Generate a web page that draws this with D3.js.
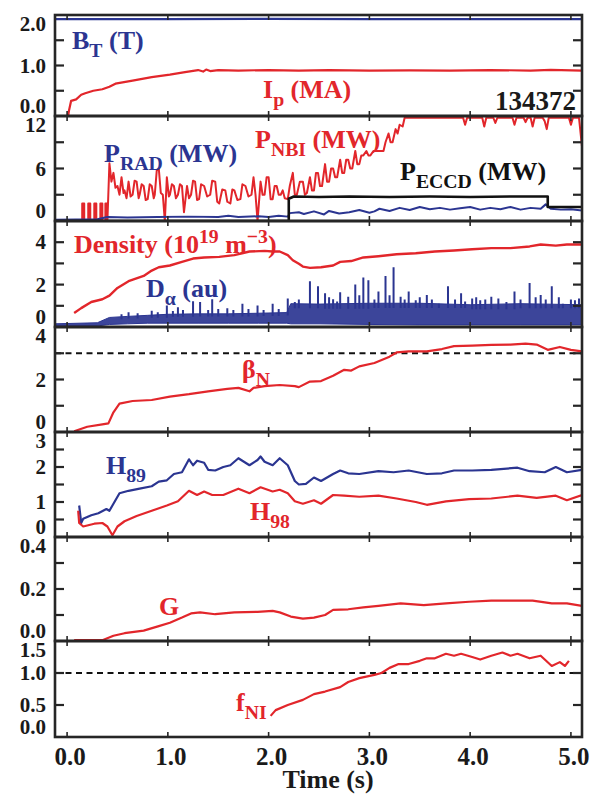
<!DOCTYPE html>
<html><head><meta charset="utf-8">
<script src="https://cdn.jsdelivr.net/npm/d3@7"></script>
<style>body{margin:0;background:#fff}</style>
</head><body><svg id="c" width="591" height="797"></svg>
<script>
// ---------------- DATA ----------------
const timeTicks = [0, 1, 2, 3, 4, 5];
const timeLabels = ["0.0", "1.0", "2.0", "3.0", "4.0", "5.0"];

// panel y ticks / labels
const p1Ticks = [0, 0.5, 1, 1.5, 2],      p1Labels = ["0.0", "", "1.0", "", "2.0"];
const p2Ticks = [0, 3, 6, 9, 12],          p2Labels = ["0", "", "6", "", "12"];
const p3Ticks = [0, 1, 2, 3, 4, 5],        p3Labels = ["0", "", "2", "", "4", ""];
const p4Ticks = [0, 1, 2, 3, 4],           p4Labels = ["0", "", "2", "", "4"];
const p5Ticks = [0, 0.5, 1, 1.5, 2, 2.5, 3], p5Labels = ["0", "", "1", "", "2", "", "3"];
const p6Ticks = [0, 0.1, 0.2, 0.3, 0.4],   p6Labels = ["0.0", "", "0.2", "", "0.4"];
const p7Ticks = [0, 0.5, 1, 1.5],          p7Labels = ["0.0", "0.5", "1.0", "1.5"];

// Panel 1: toroidal field and plasma current
const bT = [[-0.12,1.92],[1.0,1.92],[2.0,1.925],[3.0,1.92],[4.0,1.92],[5.11,1.92]];
const iP = [[-0.12,0],[0.01,0],[0.02,0.12],[0.04,0.3],[0.09,0.33],[0.14,0.42],[0.18,0.45],[0.26,0.5],
  [0.35,0.53],[0.42,0.58],[0.48,0.64],[0.65,0.7],[0.84,0.77],[1.02,0.82],[1.17,0.87],[1.3,0.91],
  [1.35,0.88],[1.38,0.92],[1.42,0.89],[1.5,0.91],[1.7,0.9],[2.0,0.91],[2.3,0.9],[2.6,0.91],[3.0,0.9],
  [3.4,0.905],[3.8,0.9],[4.2,0.91],[4.6,0.9],[4.8,0.915],[5.11,0.9]];

// Panel 2: powers (MW)
const pNBI = [[0,0],[0.15,0],[0.15,2],[0.17,2],[0.17,0],[0.21,0],[0.21,2],[0.23,2],[0.23,0],[0.27,0],
  [0.27,2],[0.29,2],[0.29,0],[0.33,0],[0.33,2],[0.35,2],[0.35,0],[0.38,0],[0.38,2],[0.4,2],[0.4,0],
  [0.42,6.6],[0.44,4.5],[0.46,5.5],[0.48,3.8],[0.5,4],[0.52,3],[0.54,5],[0.56,3.2],[0.57,3.5],[0.59,2.6],
  [0.61,4.5],[0.63,2.8],[0.65,3],[0.67,4.6],[0.69,4.5],[0.71,2.6],[0.72,3],[0.74,4.2],[0.76,4],[0.78,2.4],
  [0.8,2.5],[0.82,4.2],[0.84,4],[0.86,2.6],[0.87,3],[0.89,5.8],[0.91,6],[0.93,3.2],[0.95,3],[0.97,0],
  [0.99,5],[1.01,2.8],[1.02,3],[1.04,4.2],[1.06,4],[1.08,2.6],[1.1,3],[1.12,4.2],[1.14,4],[1.16,1],
  [1.19,4],[1.21,2.6],[1.23,3],[1.25,4.6],[1.27,4.5],[1.29,2.4],[1.31,2.5],[1.33,4.2],[1.36,4],[1.39,2.8],
  [1.42,3],[1.44,4.6],[1.47,4.5],[1.49,2.2],[1.51,2],[1.54,3.6],[1.57,3.5],[1.59,2.2],[1.62,2],[1.64,3.6],
  [1.66,3.5],[1.69,2.4],[1.72,2.5],[1.74,4.2],[1.77,4],[1.8,2.8],[1.83,3],[1.85,5],[1.87,3],[1.89,0],
  [1.92,4.5],[1.94,3],[1.96,3],[1.98,5],[2.0,5],[2.02,2.5],[2.04,2.5],[2.06,4],[2.08,4],[2.1,3],[2.12,3],
  [2.14,3.5],[2.16,2.6],[2.19,2.5],[2.21,4],[2.24,5.5],[2.26,3],[2.28,3],[2.31,4.5],[2.34,4.5],[2.36,3],
  [2.38,3.2],[2.41,5],[2.43,3.5],[2.45,3.5],[2.47,5.5],[2.49,5.5],[2.51,4],[2.53,4],[2.56,6.5],[2.58,4.5],
  [2.6,4.5],[2.62,6],[2.64,6],[2.66,5],[2.68,5],[2.71,7],[2.73,5.5],[2.75,5.5],[2.77,7],[2.79,7],[2.81,6],
  [2.83,6],[2.86,8],[2.88,6.5],[2.9,6.5],[2.92,7.5],[2.94,7.5],[2.97,8],[2.99,7.5],[3.01,7.5],[3.04,8],
  [3.14,8],[3.16,9],[3.19,10],[3.21,9],[3.23,9],[3.26,10.5],[3.28,10],[3.3,11],[3.33,10.8],[3.35,11.8],
  [3.93,11.8],[3.95,11],[3.97,11.8],[4.12,11.8],[4.14,10.8],[4.16,11.8],[4.23,11.8],[4.25,11.2],[4.27,11.8],
  [4.42,11.8],[4.44,11],[4.46,11.8],[4.53,11.8],[4.55,11.3],[4.57,11.8],[4.6,11.8],[4.62,10.8],[4.64,11.8],
  [4.72,11.8],[4.74,11.4],[4.76,10.5],[4.78,11.8],[4.98,11.8],[5.0,11],[5.02,11.8],[5.08,11.8],[5.11,8.5]];
const pRAD = [[-0.12,0.15],[0.3,0.2],[0.4,0.45],[0.6,0.4],[0.9,0.45],[1.2,0.5],[1.5,0.45],[1.6,0.6],
  [1.7,0.45],[1.9,0.55],[2.0,0.45],[2.1,0.6],[2.19,0.5],[2.21,0.9],[2.3,1.0],[2.35,0.8],[2.45,1.1],
  [2.55,0.75],[2.6,1.15],[2.7,0.85],[2.8,1.0],[2.9,1.25],[3.0,0.95],[3.05,1.1],[3.1,1.4],[3.2,1.15],
  [3.3,1.5],[3.4,1.25],[3.5,1.6],[3.6,1.35],[3.7,1.5],[3.8,1.3],[3.9,1.45],[4.0,1.6],[4.1,1.3],[4.2,1.5],
  [4.3,1.35],[4.4,1.6],[4.5,1.3],[4.6,1.5],[4.7,1.4],[4.75,1.9],[4.8,1.4],[4.9,1.3],[5.0,1.35],[5.11,1.2]];
const pECCD = [[-0.12,0],[2.2,0],[2.2,2.55],[2.25,2.8],[2.5,2.75],[2.8,2.8],[3.2,2.75],[3.6,2.8],
  [4.0,2.75],[4.4,2.8],[4.77,2.8],[4.77,1.6],[5.11,1.6]];

// Panel 3: line-averaged density and D-alpha
const density = [[0.07,0.66],[0.14,0.89],[0.24,1.18],[0.35,1.31],[0.42,1.48],[0.5,1.84],[0.61,2.16],
  [0.76,2.41],[0.84,2.66],[0.91,2.82],[1.02,2.9],[1.14,3.07],[1.25,3.23],[1.36,3.28],[1.51,3.31],
  [1.66,3.39],[1.81,3.56],[1.96,3.59],[2.04,3.56],[2.11,3.56],[2.19,3.39],[2.24,3.15],[2.3,2.98],
  [2.34,2.85],[2.41,2.79],[2.52,2.82],[2.64,2.9],[2.71,3.07],[2.82,3.11],[2.94,3.28],[3.09,3.34],
  [3.27,3.43],[3.46,3.48],[3.65,3.56],[3.84,3.61],[4.02,3.67],[4.21,3.72],[4.4,3.72],[4.59,3.8],
  [4.7,3.89],[4.85,3.84],[4.96,3.89],[5.11,3.89]];
const dAlphaBand = [[-0.12,0.05,0.15],[0.3,0.05,0.2],[0.42,0.12,0.45],[0.6,0.15,0.5],[0.8,0.18,0.55],
  [1.0,0.18,0.6],[1.3,0.18,0.62],[1.6,0.18,0.62],[1.9,0.18,0.65],[2.18,0.18,0.68],[2.22,0.15,1.1],
  [2.5,0.15,1.08],[3.0,0.12,1.12],[3.5,0.1,1.12],[4.0,0.1,1.05],[4.5,0.1,1.1],[5.11,0.1,1.05]];
const dAlphaSpikes = [[0.54,0.6],[0.61,0.69],[0.7,0.65],[0.84,0.77],[0.9,0.7],[0.99,1.02],[1.05,0.75],
  [1.1,0.93],[1.15,0.8],[1.25,1.21],[1.32,1.18],[1.4,0.8],[1.44,1.31],[1.5,0.85],[1.59,0.89],[1.65,0.8],
  [1.74,1.1],[1.8,0.85],[1.89,1.02],[1.95,0.8],[2.04,1.1],[2.1,0.85],[2.19,1.34],[2.26,1.18],[2.3,1.3],
  [2.41,2.16],[2.49,1.92],[2.56,1.59],[2.6,1.4],[2.64,1.31],[2.68,1.2],[2.71,1.64],[2.79,1.43],[2.86,2.0],
  [2.9,1.5],[2.94,2.33],[2.99,2.2],[3.05,1.3],[3.09,1.67],[3.16,2.41],[3.2,1.5],[3.24,2.82],[3.31,1.43],
  [3.35,1.3],[3.39,1.67],[3.46,1.26],[3.5,1.4],[3.57,1.51],[3.62,1.3],[3.69,1.1],[3.78,1.92],[3.85,1.3],
  [3.91,1.59],[3.95,1.2],[4.02,1.34],[4.06,1.4],[4.1,1.26],[4.15,1.3],[4.21,1.43],[4.28,1.35],[4.36,1.18],
  [4.44,1.67],[4.5,1.3],[4.59,2.08],[4.65,1.4],[4.7,1.51],[4.75,1.3],[4.81,1.92],[4.88,1.4],[4.92,1.1],
  [5.0,1.3],[5.04,1.26],[5.08,1.35]];

// Panel 4: beta_N and limit
const betaN = [[0.07,0.03],[0.2,0.2],[0.35,0.29],[0.41,0.33],[0.46,0.75],[0.52,1.08],[0.65,1.18],
  [0.84,1.22],[1.02,1.35],[1.21,1.44],[1.4,1.55],[1.59,1.64],[1.7,1.68],[1.81,1.55],[1.85,1.68],
  [1.96,1.75],[2.11,1.79],[2.26,1.75],[2.3,1.71],[2.41,1.92],[2.52,1.94],[2.64,2.14],[2.75,2.37],
  [2.82,2.34],[2.9,2.5],[3.05,2.63],[3.2,2.87],[3.27,3.03],[3.39,3.07],[3.57,3.07],[3.72,3.16],
  [3.84,3.27],[4.02,3.29],[4.21,3.32],[4.4,3.33],[4.55,3.37],[4.66,3.33],[4.77,3.13],[4.89,3.24],
  [5.0,3.13],[5.11,3.07]];
const betaLimit = [3.0];

// Panel 5: confinement factors
const h89 = [[0.12,0.9],[0.14,0.4],[0.16,0.52],[0.24,0.62],[0.31,0.68],[0.39,0.8],[0.42,0.75],[0.46,0.95],
  [0.52,1.25],[0.61,1.32],[0.72,1.38],[0.84,1.45],[0.91,1.58],[0.99,1.62],[1.06,1.8],[1.14,1.85],
  [1.21,2.22],[1.25,2.05],[1.29,2.18],[1.36,2.12],[1.4,1.92],[1.47,1.9],[1.55,2.0],[1.62,2.05],[1.7,2.25],
  [1.81,2.05],[1.89,2.2],[1.92,2.3],[1.96,2.15],[2.04,2.05],[2.11,2.25],[2.19,2.05],[2.26,1.6],[2.3,1.5],
  [2.37,1.52],[2.45,1.7],[2.52,1.6],[2.64,1.8],[2.71,1.9],[2.79,1.82],[2.9,1.8],[3.09,1.88],[3.24,1.85],
  [3.39,1.9],[3.57,1.8],[3.72,1.82],[3.84,1.9],[4.02,1.9],[4.21,1.92],[4.47,1.98],[4.59,1.88],
  [4.74,1.85],[4.85,2.0],[4.96,1.85],[5.11,1.92]];
const h98 = [[0.11,0.75],[0.12,0.4],[0.16,0.3],[0.27,0.38],[0.35,0.4],[0.4,0.3],[0.45,0.05],[0.5,0.3],
  [0.57,0.45],[0.69,0.6],[0.84,0.75],[0.99,0.9],[1.1,1.02],[1.21,1.32],[1.29,1.2],[1.36,1.3],[1.44,1.2],
  [1.55,1.2],[1.7,1.38],[1.81,1.25],[1.92,1.42],[2.04,1.3],[2.11,1.35],[2.19,1.25],[2.26,1.02],
  [2.34,0.95],[2.45,1.05],[2.52,0.95],[2.64,1.2],[2.75,1.18],[2.9,1.15],[3.09,1.18],[3.27,1.1],
  [3.46,1.0],[3.57,0.92],[3.76,1.02],[3.99,1.08],[4.21,1.1],[4.47,1.18],[4.66,1.12],[4.85,1.18],
  [4.96,1.05],[5.11,1.2]];

// Panel 6: G
const gFactor = [[0.07,0.003],[0.35,0.003],[0.46,0.02],[0.57,0.03],[0.76,0.04],[0.91,0.057],[1.02,0.07],
  [1.14,0.09],[1.23,0.106],[1.32,0.11],[1.47,0.103],[1.66,0.11],[1.89,0.112],[2.04,0.116],[2.11,0.11],
  [2.22,0.094],[2.34,0.086],[2.45,0.09],[2.56,0.1],[2.64,0.12],[2.79,0.122],[2.94,0.129],[3.09,0.135],
  [3.31,0.145],[3.54,0.138],[3.76,0.145],[3.99,0.151],[4.21,0.155],[4.44,0.155],[4.62,0.155],
  [4.81,0.145],[4.96,0.145],[5.11,0.135]];

// Panel 7: noninductive fraction
const fNI = [[2.02,0.33],[2.07,0.42],[2.19,0.5],[2.34,0.58],[2.45,0.67],[2.56,0.71],[2.71,0.78],
  [2.79,0.86],[2.9,0.92],[3.05,0.97],[3.12,1.0],[3.2,1.08],[3.29,1.14],[3.39,1.14],[3.5,1.19],
  [3.57,1.23],[3.65,1.23],[3.76,1.3],[3.84,1.27],[3.91,1.3],[4.02,1.25],[4.1,1.21],[4.21,1.27],
  [4.32,1.32],[4.4,1.27],[4.47,1.3],[4.59,1.23],[4.7,1.27],[4.81,1.11],[4.89,1.17],[4.94,1.11],[4.98,1.19]];
const fniLimit = [1.0];

// ---------------- LAYOUT ----------------
const RED = "#e2262b", BLUE = "#2b3591", BLACK = "#111111", FRAME = "#262626";
const FONT = "'Liberation Serif','Times New Roman',serif";
const svg = d3.select("#c");
const x = d3.scaleLinear().domain([-0.12, 5.11]).range([55, 582]);

const panels = [
  {top: 15,  bot: 116, dom: [0, 2],   ticks: p1Ticks, labels: p1Labels},
  {top: 116, bot: 221, dom: [0, 12],  ticks: p2Ticks, labels: p2Labels},
  {top: 221, bot: 327, dom: [0, 5],   ticks: p3Ticks, labels: p3Labels},
  {top: 327, bot: 432, dom: [0, 4],   ticks: p4Ticks, labels: p4Labels},
  {top: 432, bot: 537, dom: [0, 3],   ticks: p5Ticks, labels: p5Labels},
  {top: 537, bot: 641, dom: [0, 0.4], ticks: p6Ticks, labels: p6Labels},
  {top: 641, bot: 737, dom: [0, 1.5], ticks: p7Ticks, labels: p7Labels}
];
panels.forEach((p, i) => {
  p.y = d3.scaleLinear().domain(p.dom).range([p.bot, p.top]);
  svg.append("clipPath").attr("id", "clip" + i).append("rect")
    .attr("x", x.range()[0]).attr("y", p.top).attr("width", x.range()[1] - x.range()[0]).attr("height", p.bot - p.top);
  p.g = svg.append("g").attr("clip-path", `url(#clip${i})`);
});

function line(p, data, color, w) {
  p.g.append("path").datum(data)
    .attr("d", d3.line().x(d => x(d[0])).y(d => p.y(d[1])))
    .attr("fill", "none").attr("stroke", color).attr("stroke-width", w || 2)
    .attr("stroke-linejoin", "round");
}
function hline(p, v) {
  p.g.append("line").attr("x1", x.range()[0]).attr("x2", x.range()[1])
    .attr("y1", p.y(v)).attr("y2", p.y(v))
    .attr("stroke", BLACK).attr("stroke-width", 2).attr("stroke-dasharray", "6,4.5");
}

// Panel 1
line(panels[0], bT, BLUE, 2.2);
line(panels[0], iP, RED, 2.2);
// Panel 2
line(panels[1], pNBI, RED, 2);
line(panels[1], pRAD, BLUE, 2);
line(panels[1], pECCD, BLACK, 2.6);
// Panel 3
{
  const p = panels[2];
  p.g.append("path").datum(dAlphaBand)
    .attr("d", d3.area().x(d => x(d[0])).y0(d => p.y(d[1])).y1(d => p.y(d[2])))
    .attr("fill", BLUE).attr("fill-opacity", 0.92).attr("stroke", BLUE).attr("stroke-width", 1);
  const bandLo = t => { let lo = dAlphaBand[0][2]; dAlphaBand.forEach(b => { if (b[0] <= t) lo = b[2]; }); return lo; };
  p.g.append("path")
    .attr("d", dAlphaSpikes.map(s => `M${x(s[0])},${p.y(bandLo(s[0]) * 0.8)}V${p.y(s[1])}`).join(""))
    .attr("stroke", BLUE).attr("stroke-width", 2).attr("fill", "none");
  line(p, density, RED, 2.4);
}
// Panel 4
hline(panels[3], betaLimit[0]);
line(panels[3], betaN, RED, 2.2);
// Panel 5
line(panels[4], h89, BLUE, 2.2);
line(panels[4], h98, RED, 2.2);
// Panel 6
line(panels[5], gFactor, RED, 2.2);
// Panel 7
hline(panels[6], fniLimit[0]);
line(panels[6], fNI, RED, 2.2);

// Frames, ticks, labels
panels.forEach((p, i) => {
  const g = svg.append("g");
  const [x0, x1] = x.range();
  p.ticks.forEach((t, k) => {
    const yy = p.y(t);
    if (t !== p.dom[0] && t !== p.dom[1]) {
      g.append("line").attr("x1", x0).attr("x2", x0 + 9).attr("y1", yy).attr("y2", yy).attr("stroke", FRAME).attr("stroke-width", 2.2);
      g.append("line").attr("x1", x1).attr("x2", x1 - 9).attr("y1", yy).attr("y2", yy).attr("stroke", FRAME).attr("stroke-width", 2.2);
    }
    if (p.labels[k]) {
      const ly = Math.min(Math.max(yy, p.top + 9), p.bot - 10);
      g.append("text").attr("x", 46).attr("y", ly).attr("dy", "0.34em").attr("text-anchor", "end")
        .style("font", `bold 21px ${FONT}`).attr("fill", "#1a1a1a").text(p.labels[k]);
    }
  });
  timeTicks.forEach(t => {
    g.append("line").attr("x1", x(t)).attr("x2", x(t)).attr("y1", p.top).attr("y2", p.top + 5).attr("stroke", FRAME).attr("stroke-width", 1.6);
    g.append("line").attr("x1", x(t)).attr("x2", x(t)).attr("y1", p.bot).attr("y2", p.bot - 5).attr("stroke", FRAME).attr("stroke-width", 1.6);
  });
  g.append("rect").attr("x", x0).attr("y", p.top).attr("width", x1 - x0).attr("height", p.bot - p.top)
    .attr("fill", "none").attr("stroke", FRAME).attr("stroke-width", 2.6);
});

// x axis labels
timeTicks.forEach((t, k) => {
  svg.append("text").attr("x", x(t) + 3).attr("y", 765).attr("text-anchor", "middle")
    .style("font", `bold 25px ${FONT}`).attr("fill", "#1a1a1a").text(timeLabels[k]);
});
svg.append("text").attr("x", 328).attr("y", 788).attr("text-anchor", "middle")
  .style("font", `bold 26px ${FONT}`).attr("fill", "#1a1a1a").text("Time (s)");

// in-panel labels
function label(xp, yp, color, parts, size) {
  size = size || 26;
  const t = svg.append("text").attr("x", xp).attr("y", yp).attr("fill", color)
    .style("font", `bold ${size}px ${FONT}`);
  let off = 0;
  parts.forEach(([s, k]) => {
    const target = k === "sub" ? size * 0.3 : k === "sup" ? -size * 0.4 : 0;
    const sp = t.append("tspan").text(s).attr("dy", target - off);
    if (k) sp.style("font-size", (size * 0.76) + "px");
    off = target;
  });
  return t;
}
label(72, 49, BLUE, [["B"], ["T", "sub"], [" (T)"]]);
label(263, 98, RED, [["I"], ["p", "sub"], [" (MA)"]]);
svg.append("text").attr("x", 576).attr("y", 110).attr("text-anchor", "end")
  .style("font", `bold 27px ${FONT}`).attr("fill", "#1a1a1a").text("134372");
label(104, 162, BLUE, [["P"], ["RAD", "sub"], [" (MW)"]]);
label(255, 148, RED, [["P"], ["NBI", "sub"], [" (MW)"]]);
label(400, 180, BLACK, [["P"], ["ECCD", "sub"], [" (MW)"]]);
label(74, 253, RED, [["Density (10"], ["19", "sup"], [" m"], ["−3", "sup"], [")"]]);
label(146, 297, BLUE, [["D"], ["α", "sub"], [" (au)"]]);
label(242, 378, RED, [["β"], ["N", "sub"]]);
label(106, 474, BLUE, [["H"], ["89", "sub"]]);
label(250, 520, RED, [["H"], ["98", "sub"]]);
label(159, 615, RED, [["G"]]);
label(236, 711, RED, [["f"], ["NI", "sub"]]);
</script>
</body></html>
